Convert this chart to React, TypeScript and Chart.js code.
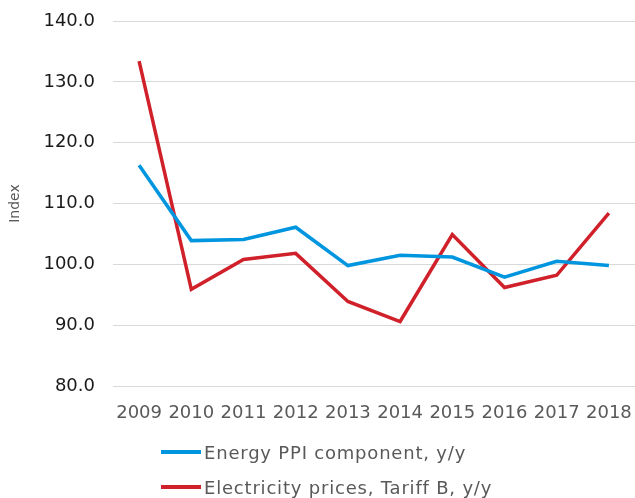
import React, { useEffect, useRef } from "react";
import { Chart, registerables } from "chart.js";

Chart.register(...registerables);

const years = ["2009", "2010", "2011", "2012", "2013", "2014", "2015", "2016", "2017", "2018"];
const energyPPI = [116.3, 103.9, 104.1, 106.1, 99.8, 101.5, 101.2, 97.9, 100.5, 99.8];
const electricityB = [133.4, 95.9, 100.8, 101.8, 93.9, 90.6, 104.9, 96.2, 98.2, 108.4];
const seriesNames = ["Energy PPI component, y/y", "Electricity prices, Tariff B, y/y"];
const seriesColors = ["#0096DF", "#D0202A"];

const FONT = "'DejaVu Sans', Verdana, sans-serif";

export default function App() {
  const ref = useRef<HTMLCanvasElement | null>(null);
  useEffect(() => {
    if (!ref.current) return;
    const chart = new Chart(ref.current, {
      type: "line",
      data: {
        labels: years,
        datasets: [
          {
            label: seriesNames[0],
            data: energyPPI,
            borderColor: seriesColors[0],
            backgroundColor: seriesColors[0],
            borderWidth: 3.5,
            pointRadius: 0,
            tension: 0,
          },
          {
            label: seriesNames[1],
            data: electricityB,
            borderColor: seriesColors[1],
            backgroundColor: seriesColors[1],
            borderWidth: 3.5,
            pointRadius: 0,
            tension: 0,
          },
        ],
      },
      options: {
        animation: false,
        responsive: false,
        maintainAspectRatio: false,
        layout: { padding: { top: 21, right: 0, bottom: 0, left: 0 } },
        plugins: { legend: { display: false }, tooltip: { enabled: false } },
        scales: {
          x: {
            offset: true,
            grid: { display: false, drawTicks: false },
            border: { display: false },
            ticks: {
              color: "#595959",
              font: { family: FONT, size: 18 },
              padding: 17,
              maxRotation: 0,
              autoSkip: false,
            },
            afterFit: (s: any) => {
              s.height = 112;
              s.paddingLeft = 0;
              s.paddingRight = 0;
            },
          },
          y: {
            min: 80,
            max: 140,
            grid: { color: "#D9D9D9", lineWidth: 1, drawTicks: false },
            border: { display: false },
            ticks: {
              stepSize: 10,
              color: "#1a1a1a",
              font: { family: FONT, size: 18 },
              padding: 18,
              callback: (v: any) => Number(v).toFixed(1),
            },
            title: {
              display: true,
              text: "Index",
              color: "#595959",
              font: { family: FONT, size: 14 },
              padding: { top: 7, bottom: 0 },
            },
            afterFit: (s: any) => {
              s.width = 113;
              s.paddingTop = 0;
              s.paddingBottom = 0;
            },
          },
        },
      },
    });
    return () => chart.destroy();
  }, []);

  return (
    <div style={{ position: "fixed", left: 0, top: 0, width: 635, height: 498, background: "#fff", overflow: "hidden" }}>
      <canvas ref={ref} width={635} height={498} style={{ position: "absolute", left: 0, top: 0, width: 635, height: 498 }} />
      {seriesNames.map((name, i) => (
        <div
          key={name}
          style={{
            position: "absolute",
            left: 161,
            top: 440 + i * 35,
            height: 24,
            display: "flex",
            alignItems: "center",
            fontFamily: FONT,
            fontSize: 18,
            letterSpacing: "0.8px",
            color: "#595959",
            whiteSpace: "nowrap",
          }}
        >
          <span style={{ display: "inline-block", width: 40, height: 4, background: seriesColors[i], marginRight: 3 }} />
          <span>{name}</span>
        </div>
      ))}
    </div>
  );
}
